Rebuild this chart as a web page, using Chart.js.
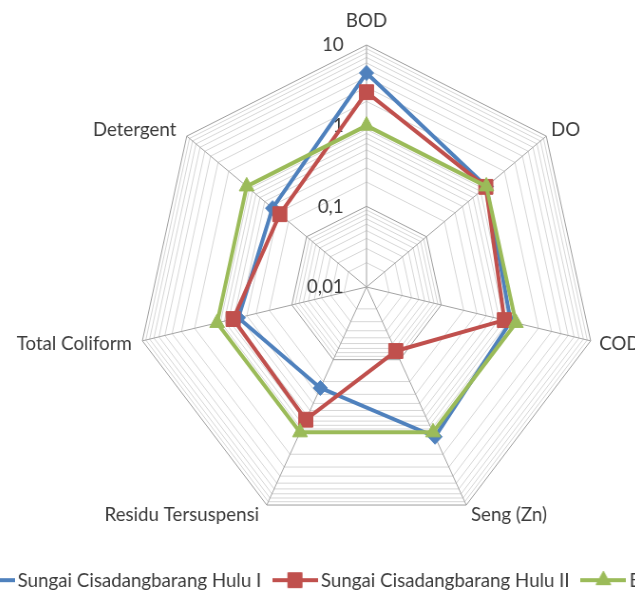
<!DOCTYPE html>
<html>
<head>
<meta charset="utf-8">
<script src="https://cdn.jsdelivr.net/npm/chart.js@4.4.1/dist/chart.umd.min.js"></script>
<style>
  html, body { margin: 0; padding: 0; background: #fff; overflow: hidden; width: 635px; height: 591px; }
  #stage { position: absolute; left: -42.3px; top: 0; width: 861px; height: 600px; transform: scaleX(0.95); transform-origin: 0 0; }
</style>
</head>
<body>
<div id="stage"><canvas id="radar"></canvas></div>
<script>
// Parameters on the spokes, clockwise from the top
const parameters = ['BOD', 'DO', 'COD', 'Seng (Zn)', 'Residu Tersuspensi', 'Total Coliform', 'Detergent'];
const seriesNames = ['Sungai Cisadangbarang Hulu I', 'Sungai Cisadangbarang Hulu II', 'Baku Mutu'];

// Values per parameter (same order as parameters)
const hulu1 = [4.5, 1.0, 0.85, 1.15, 0.245, 0.52, 0.37];
const hulu2 = [2.6, 0.98, 0.70, 0.076, 0.67, 0.61, 0.28];
const bakuMutu = [1, 1, 1, 1, 1, 1, 1];

// Logarithmic radial axis: labelled decades and the minor steps inside each decade
const decadeTicks = [0.01, 0.1, 1, 10];
const decadeLabels = ['0,01', '0,1', '1', '10'];
const minorSteps = [2, 3, 4, 5, 6, 7, 8, 9];

const FONT = 'Lato, "Open Sans", sans-serif';
const FS = 19.7;
const TEXT = '#3b3b3b';
const BLUE = '#4f81bd', RED = '#c0504d', GREEN = '#9bbb59';

// grid rings: every decade plus its minor steps, as log10 positions
const ringValues = [];
decadeTicks.forEach((d, i) => {
  ringValues.push(Math.log10(d));
  if (i < decadeTicks.length - 1) minorSteps.forEach(m => ringValues.push(Math.log10(d * m)));
});
const isDecade = v => Math.abs(v - Math.round(v)) < 1e-9;

function legendIcon(color, shape, radius) {
  const c = document.createElement('canvas');
  c.width = 48; c.height = 20;
  const g = c.getContext('2d');
  g.strokeStyle = color; g.lineWidth = 4;
  g.beginPath(); g.moveTo(0, 10); g.lineTo(48, 10); g.stroke();
  g.fillStyle = color; g.lineWidth = 1;
  Chart.helpers.drawPoint(g, { pointStyle: shape, radius: radius, borderWidth: 1 }, 24, 10);
  return c;
}
const legendIcons = [legendIcon(BLUE, 'rectRot', 7.5), legendIcon(RED, 'rect', 10.5), legendIcon(GREEN, 'triangle', 9)];

// spoke names placed around the outer ring, decade labels beside the first spoke
const spokeLabels = {
  id: 'spokeLabels',
  beforeDatasetsDraw(chart) {
    const r = chart.scales.r, ctx = chart.ctx;
    ctx.save();
    ctx.font = FS + 'px ' + FONT;
    ctx.fillStyle = TEXT;
    ctx.textBaseline = 'alphabetic';
    parameters.forEach((name, i) => {
      const p = r.getPointPosition(i, r.drawingArea);
      const deg = Math.round(r.getIndexAngle(i) * 180 / Math.PI);
      let align, dx, dy;
      if (deg === 0) { align = 'center'; dx = 0; dy = -18; }
      else if (deg < 90) { align = 'left'; dx = 5; dy = 0; }
      else if (deg < 135) { align = 'left'; dx = 9; dy = 9; }
      else if (deg < 180) { align = 'left'; dx = 5; dy = 16; }
      else if (deg < 225) { align = 'right'; dx = -8; dy = 16; }
      else if (deg < 270) { align = 'right'; dx = -11; dy = 9; }
      else { align = 'right'; dx = -11; dy = 0; }
      ctx.textAlign = align;
      ctx.fillText(name, p.x + dx, p.y + dy);
    });
    ctx.textAlign = 'right';
    ctx.textBaseline = 'middle';
    decadeTicks.forEach((v, i) => {
      const d = r.getDistanceFromCenterForValue(Math.log10(v));
      ctx.fillText(decadeLabels[i], r.xCenter - 24, r.yCenter - d);
    });
    ctx.restore();
  }
};

const series = [hulu1, hulu2, bakuMutu];
const colors = [BLUE, RED, GREEN];
const shapes = ['rectRot', 'rect', 'triangle'];
const radii = [7.5, 10.5, 9];

new Chart(document.getElementById('radar'), {
  type: 'radar',
  data: {
    labels: parameters,
    datasets: series.map((vals, i) => ({
      label: seriesNames[i],
      data: vals.map(v => Math.log10(v)),
      borderColor: colors[i],
      backgroundColor: colors[i],
      borderWidth: 4,
      borderJoinStyle: 'round',
      fill: false,
      pointStyle: shapes[i],
      pointRadius: radii[i],
      pointBackgroundColor: colors[i],
      pointBorderColor: colors[i],
      pointBorderWidth: 1,
      order: 3 - i
    }))
  },
  options: {
    responsive: true,
    maintainAspectRatio: false,
    devicePixelRatio: 1,
    animation: false,
    events: [],
    layout: { padding: { top: 45, bottom: 0, left: 0, right: 0 } },
    scales: {
      r: {
        min: -2,
        max: 1,
        afterBuildTicks(scale) { scale.ticks = ringValues.map(v => ({ value: v })); },
        ticks: { display: false },
        pointLabels: { display: false },
        grid: {
          color: c => isDecade(c.tick.value) ? '#9d9d9d' : '#d6d6d6',
          lineWidth: 1
        },
        angleLines: { color: '#a3a3a3', lineWidth: 1 }
      }
    },
    plugins: {
      tooltip: { enabled: false },
      legend: {
        position: 'bottom',
        align: 'start',
        title: { display: true, text: ' ', font: { size: 10 }, padding: { top: 0, bottom: 11.3 } },
        labels: {
          usePointStyle: true,
          pointStyleWidth: 35,
          padding: 18,
          color: TEXT,
          font: { family: FONT, size: FS },
          generateLabels: chart => chart.data.datasets.map((ds, i) => ({
            text: ds.label, datasetIndex: i, hidden: false,
            pointStyle: legendIcons[i], fillStyle: colors[i], strokeStyle: colors[i],
            lineWidth: 0, fontColor: TEXT
          }))
        }
      }
    }
  },
  plugins: [spokeLabels]
});
</script>
</body>
</html>
